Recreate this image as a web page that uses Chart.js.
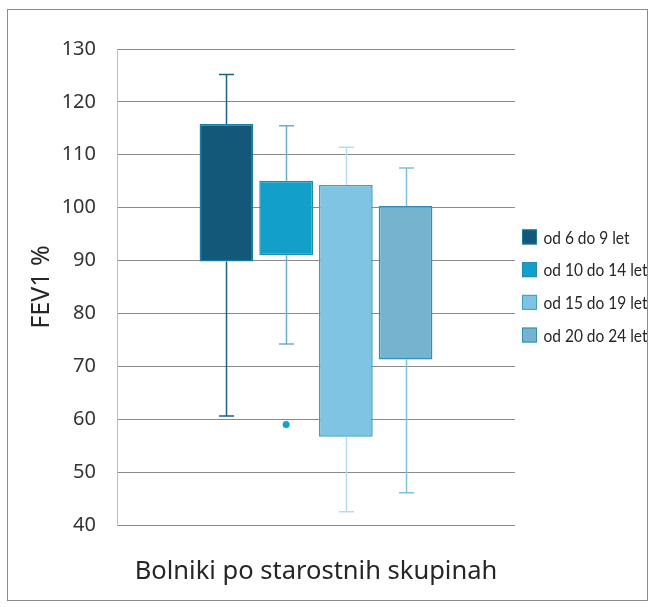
<!DOCTYPE html>
<html>
<head>
<meta charset="utf-8">
<script src="https://cdn.jsdelivr.net/npm/chart.js@4.4.1/dist/chart.umd.min.js"></script>
<style>
html,body{margin:0;padding:0;background:#fff;}
#wrap{position:absolute;left:0;top:0;width:652px;height:607px;}
</style>
</head>
<body>
<div id="wrap"><canvas id="c" width="652" height="607"></canvas></div>
<script>
// ---- data ----
const groupLabels = ['od 6 do 9 let', 'od 10 do 14 let', 'od 15 do 19 let', 'od 20 do 24 let'];
const q1Values    = [89.8, 91.0, 56.7, 71.3];
const q3Values    = [115.8, 105.1, 104.3, 100.3];
const minValues   = [60.6, 74.2, 42.5, 46.1];
const maxValues   = [125.2, 115.5, 111.4, 107.5];
const outlierValues = [[], [59.0], [], []];
const yTicks = [40, 50, 60, 70, 80, 90, 100, 110, 120, 130];
const categoryLabel = 'Bolniki po starostnih skupinah';
const yTitle = 'FEV1 %';

// ---- styles ----
const fillColors    = ['#135879', '#12a0cb', '#80c4e3', '#75b3cf'];
const borderColors  = ['#1d7ca3', '#1b8db3', '#3d9fc4', '#2f8fb5'];
const whiskerColors = ['#1a6088', '#68adc9', '#b3ddef', '#80bfd9'];
const outlierColor  = '#14a0d0';

const datasets = groupLabels.map((lab, i) => ({
  label: lab,
  data: [[q1Values[i], q3Values[i]]],
  backgroundColor: fillColors[i],
  borderColor: borderColors[i],
  borderWidth: 1.5,
  borderSkipped: false
}));

const whiskerPlugin = {
  id: 'whiskers',
  beforeDatasetsDraw(chart) {
    const ctx = chart.ctx;
    const y = chart.scales.y;
    chart.data.datasets.forEach((ds, i) => {
      const bar = chart.getDatasetMeta(i).data[0];
      if (!bar) return;
      const x = Math.round(bar.x) + 0.5;
      const yMax = y.getPixelForValue(maxValues[i]);
      const yMin = y.getPixelForValue(minValues[i]);
      const yTop = y.getPixelForValue(q3Values[i]);
      const yBot = y.getPixelForValue(q1Values[i]);
      ctx.save();
      ctx.strokeStyle = whiskerColors[i];
      ctx.lineWidth = 1.5;
      ctx.beginPath();
      ctx.moveTo(x, yMax); ctx.lineTo(x, yTop);
      ctx.moveTo(x, yBot); ctx.lineTo(x, yMin);
      ctx.moveTo(x - 7.5, yMax); ctx.lineTo(x + 7.5, yMax);
      ctx.moveTo(x - 7.5, yMin); ctx.lineTo(x + 7.5, yMin);
      ctx.stroke();
      ctx.restore();
    });
  },
  afterDatasetsDraw(chart) {
    const ctx = chart.ctx;
    const y = chart.scales.y;
    chart.data.datasets.forEach((ds, i) => {
      const bar = chart.getDatasetMeta(i).data[0];
      if (!bar) return;
      outlierValues[i].forEach(v => {
        ctx.save();
        ctx.fillStyle = outlierColor;
        ctx.beginPath();
        ctx.arc(bar.x, y.getPixelForValue(v), 3.5, 0, Math.PI * 2);
        ctx.fill();
        ctx.restore();
      });
    });
  }
};

const legendPlugin = {
  id: 'sideLegend',
  afterDraw(chart) {
    const ctx = chart.ctx;
    const area = chart.chartArea;
    const n = chart.data.datasets.length;
    const step = 32.7, box = 15;
    const x0 = 522;
    const cy = (area.top + area.bottom) / 2 - 1;
    ctx.save();
    chart.data.datasets.forEach((ds, i) => {
      const yc = cy + (i - (n - 1) / 2) * step;
      ctx.fillStyle = ds.backgroundColor;
      ctx.fillRect(x0, yc - box / 2, box, box);
      ctx.strokeStyle = ds.borderColor;
      ctx.lineWidth = 1;
      ctx.strokeRect(x0 + 0.5, yc - box / 2 + 0.5, box - 1, box - 1);
      ctx.save();
      ctx.translate(x0 + box + 6.5, yc + 1);
      ctx.scale(0.86, 1);
      ctx.font = '18px Lato, sans-serif';
      ctx.textBaseline = 'middle';
      ctx.textAlign = 'left';
      ctx.fillStyle = '#262626';
      ctx.fillText(ds.label, 0, 0);
      ctx.restore();
    });
    // outer frame
    ctx.strokeStyle = '#8c8c8c';
    ctx.lineWidth = 1;
    ctx.strokeRect(7.5, 9.5, 640, 591);
    ctx.restore();
  }
};

new Chart(document.getElementById('c'), {
  type: 'bar',
  data: { labels: [categoryLabel], datasets },
  options: {
    responsive: false,
    animation: false,
    devicePixelRatio: 1,
    categoryPercentage: 0.6,
    barPercentage: 0.9,
    layout: { padding: { left: 0, top: 49, bottom: 0, right: 137 } },
    plugins: {
      tooltip: { enabled: false },
      legend: { display: false }
    },
    scales: {
      x: {
        grid: { display: false, drawTicks: false },
        border: { display: false },
        ticks: { display: false },
        afterFit(scale) { scale.height = 82; },
        title: {
          display: true, text: categoryLabel,
          color: '#262626',
          font: { family: 'Noto Sans', size: 25.5 },
          padding: { top: 0, bottom: 20 }
        }
      },
      y: {
        min: 40, max: 130,
        afterBuildTicks(axis) { axis.ticks = yTicks.map(v => ({ value: v })); },
        afterFit(scale) { scale.width = 117; },
        grid: { color: '#8a8a8a', lineWidth: 1, drawTicks: false },
        border: { display: true, color: '#bdbdbd', width: 1 },
        ticks: {
          padding: 21,
          color: '#333333',
          font: { family: 'Noto Sans', size: 20 }
        },
        title: {
          display: true, text: yTitle,
          color: '#262626',
          font: { family: 'Noto Sans', size: 25 },
          padding: { top: 27, bottom: 0 }
        }
      }
    }
  },
  plugins: [whiskerPlugin, legendPlugin]
});
</script>
</body>
</html>
